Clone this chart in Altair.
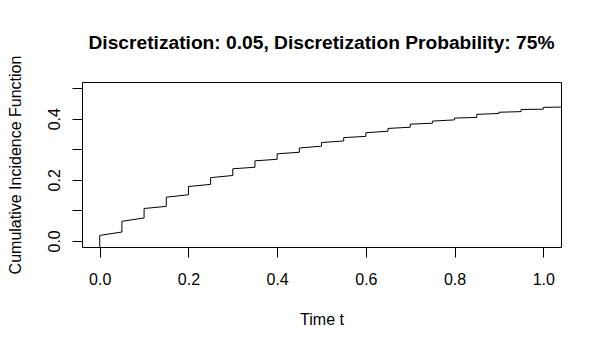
import altair as alt
import pandas as pd

# Step knots of the discretized cumulative incidence function
knots = [0.00, 0.05, 0.10, 0.15, 0.20, 0.25, 0.30, 0.35, 0.40, 0.45, 0.50,
         0.55, 0.60, 0.65, 0.70, 0.75, 0.80, 0.85, 0.90, 0.95, 1.00]
# value right after the jump at each knot
after_jump = [0.018, 0.064, 0.106, 0.143, 0.178, 0.207, 0.236, 0.262, 0.285, 0.304, 0.322,
              0.338, 0.354, 0.368, 0.382, 0.392, 0.402, 0.414, 0.421, 0.430, 0.437]
# value reached just before the next knot
before_next = [0.029, 0.075, 0.113, 0.151, 0.185, 0.214, 0.241, 0.267, 0.290, 0.310,
               0.327, 0.342, 0.359, 0.372, 0.385, 0.396, 0.404, 0.417, 0.423, 0.431]
start_value = -0.02
end_t = 1.04
end_value = 0.438

x_ticks = [0.0, 0.2, 0.4, 0.6, 0.8, 1.0]
y_ticks = [0.0, 0.1, 0.2, 0.3, 0.4, 0.5]

rows = [{"t": knots[0], "cif": start_value}]
for i, k in enumerate(knots):
    rows.append({"t": k, "cif": after_jump[i]})
    if i < len(before_next):
        rows.append({"t": knots[i + 1], "cif": before_next[i]})
    else:
        rows.append({"t": end_t, "cif": end_value})
for j, r in enumerate(rows):
    r["i"] = j
df = pd.DataFrame(rows)

FONT = "Liberation Sans"

line = alt.Chart(df).mark_line(color="black", strokeWidth=1, clip=True).encode(
    x=alt.X("t:Q",
            scale=alt.Scale(domain=[-0.04, 1.04], nice=False, zero=False),
            axis=alt.Axis(values=x_ticks, format=".1f", title="Time t",
                          labelBaseline="alphabetic", labelPadding=27,
                          titleY=77, titleBaseline="alphabetic")),
    y=alt.Y("cif:Q",
            scale=alt.Scale(domain=[-0.02, 0.52], nice=False, zero=False),
            axis=alt.Axis(values=y_ticks,
                          labelExpr="(round(datum.value*10) % 2 == 0) ? format(datum.value, '.1f') : ''",
                          labelAngle=270, labelAlign="center", labelBaseline="alphabetic",
                          labelPadding=13,
                          title="Cumulative Incidence Function",
                          titleX=-62, titleY=82.5, titleAngle=270,
                          titleAlign="center", titleBaseline="alphabetic")),
    order="i:Q",
)

chart = line.properties(
    width=479, height=165,
    title=alt.TitleParams("Discretization: 0.05, Discretization Probability: 75%",
                          fontSize=19.2, fontWeight="bold", font=FONT,
                          anchor="middle", offset=2, color="black"),
    autosize=alt.AutoSizeParams(type="none"),
    padding={"left": 74, "top": 74, "right": 30, "bottom": 90},
    background="white",
).configure_view(
    stroke="black", strokeWidth=1
).configure_axis(
    grid=False, domain=False, tickColor="black", tickSize=10, tickWidth=1,
    labelColor="black", titleColor="black", labelFont=FONT, titleFont=FONT,
    labelFontSize=16, titleFontSize=16, titleFontWeight="normal",
    labelOverlap=False,
)

chart.save("out.html", embed_options={"renderer": "svg", "actions": False})
